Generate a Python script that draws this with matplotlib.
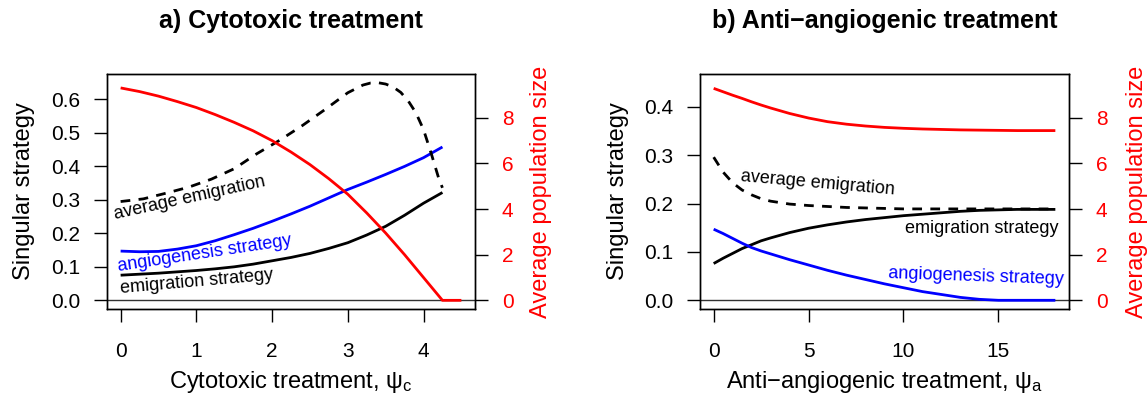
import matplotlib
matplotlib.use('Agg')
import matplotlib.pyplot as plt

plt.rcParams['font.family'] = ['Liberation Sans', 'DejaVu Sans']
plt.rcParams['mathtext.fontset'] = 'custom'
plt.rcParams['mathtext.rm'] = 'Liberation Sans'
plt.rcParams['mathtext.it'] = 'Liberation Sans'

# ---------------- data: panel a (cytotoxic) ----------------
a_x = [0, 0.25, 0.5, 0.75, 1.0, 1.25, 1.5, 1.75, 2.0, 2.25, 2.5, 2.75,
       3.0, 3.25, 3.5, 3.75, 4.0, 4.25]
a_emig = [0.075, 0.078, 0.081, 0.085, 0.089, 0.094, 0.100, 0.108, 0.118,
          0.128, 0.140, 0.155, 0.172, 0.195, 0.221, 0.254, 0.290, 0.322]
a_angio = [0.147, 0.145, 0.146, 0.153, 0.163, 0.178, 0.196, 0.215, 0.236,
           0.258, 0.281, 0.306, 0.331, 0.353, 0.376, 0.400, 0.426, 0.458]
a_avg_x = [0, 0.3, 0.6, 0.9, 1.2, 1.5, 1.8, 2.1, 2.4, 2.7, 3.0, 3.2, 3.3,
           3.4, 3.5, 3.6, 3.7, 3.8, 3.9, 4.0, 4.1, 4.2, 4.25]
a_avg = [0.295, 0.303, 0.320, 0.338, 0.362, 0.393, 0.438, 0.478, 0.522,
         0.570, 0.620, 0.643, 0.649, 0.650, 0.646, 0.637, 0.621, 0.595,
         0.560, 0.510, 0.440, 0.365, 0.336]
a_pop_x = [0, 0.25, 0.5, 0.75, 1.0, 1.25, 1.5, 1.75, 2.0, 2.25, 2.5, 2.75,
           3.0, 3.25, 3.5, 3.75, 4.0, 4.25, 4.5]
a_pop = [9.31, 9.15, 8.95, 8.71, 8.45, 8.14, 7.80, 7.43, 7.00, 6.50, 5.95,
         5.33, 4.65, 3.83, 2.95, 2.00, 1.00, 0.0, 0.0]

# ---------------- data: panel b (anti-angiogenic) ----------------
b_x = [0, 0.5, 1, 1.5, 2, 2.5, 3, 4, 5, 6, 7, 8, 9, 10, 11, 12, 13, 14,
       15, 16, 18]
b_emig = [0.076, 0.087, 0.097, 0.107, 0.115, 0.123, 0.129, 0.140, 0.149,
          0.156, 0.162, 0.167, 0.171, 0.175, 0.178, 0.181, 0.184, 0.186,
          0.187, 0.188, 0.188]
b_angio = [0.147, 0.138, 0.128, 0.118, 0.109, 0.102, 0.096, 0.084, 0.073,
           0.062, 0.052, 0.043, 0.034, 0.026, 0.018, 0.012, 0.006, 0.002,
           0.0, 0.0, 0.0]
b_avg = [0.296, 0.265, 0.243, 0.228, 0.218, 0.210, 0.205, 0.199, 0.196,
         0.194, 0.192, 0.191, 0.190, 0.189, 0.189, 0.189, 0.189, 0.189,
         0.189, 0.189, 0.189]
b_pop = [9.29, 9.14, 8.99, 8.85, 8.70, 8.56, 8.43, 8.19, 7.99, 7.83, 7.72,
         7.64, 7.58, 7.54, 7.51, 7.49, 7.47, 7.46, 7.45, 7.44, 7.44]

a_xticks = [0, 1, 2, 3, 4]
a_yticks = [0.0, 0.1, 0.2, 0.3, 0.4, 0.5, 0.6]
b_xticks = [0, 5, 10, 15]
b_yticks = [0.0, 0.1, 0.2, 0.3, 0.4]
pop_ticks = [0, 2, 4, 6, 8]

W, H = 1148, 401
fig = plt.figure(figsize=(W / 100, H / 100), dpi=100)


def px_axes(x0, x1, y0, y1):
    return [x0 / W, 1 - y1 / H, (x1 - x0) / W, (y1 - y0) / H]


TL = 9.7
LW = 2.0
DASH = (0, (3.5, 3.0))
LKW = dict(lw=LW, solid_capstyle='butt', solid_joinstyle='round')


def style(ax, twin):
    for a in (ax, twin):
        for s in a.spines.values():
            s.set_linewidth(1.0)
            s.set_color('black')
    ax.tick_params(axis='both', direction='out', length=TL, width=1.0,
                   labelsize=15, color='black')
    ax.tick_params(axis='x', pad=14)
    ax.tick_params(axis='y', pad=9.7)
    twin.tick_params(axis='y', direction='out', length=TL, width=1.0,
                     labelsize=15, color='black', labelcolor='red', pad=9.7)


# ---------------- panel a ----------------
ax1 = fig.add_axes(px_axes(107, 475, 74, 309))
ax1.set_xlim(-0.18, 4.68)
ax1.set_ylim(-0.026, 0.676)
ax1.axhline(0, color='#333333', lw=1.0, zorder=1)
ax1.plot(a_x, a_emig, color='black', **LKW)
ax1.plot(a_x, a_angio, color='blue', **LKW)
ax1.plot(a_avg_x, a_avg, color='black', lw=LW, linestyle=DASH,
         dash_joinstyle='round')
ax1.set_xticks(a_xticks)
ax1.set_yticks(a_yticks)
ax1.set_yticklabels(['%.1f' % v for v in a_yticks])
ax1.text(0.91, 0.305, 'average emigration', fontsize=13, rotation=12.4,
         ha='center', va='center', rotation_mode='anchor')
ax1.text(1.11, 0.140, 'angiogenesis strategy', fontsize=13, rotation=8.5,
         ha='center', va='center', rotation_mode='anchor', color='blue')
ax1.text(1.0, 0.0556, 'emigration strategy', fontsize=13, rotation=5,
         ha='center', va='center', rotation_mode='anchor')
ax1r = ax1.twinx()
ax1r.set_position(px_axes(107, 475, 74, 309))
ax1r.set_ylim(-0.38, 9.92)
ax1r.plot(a_pop_x, a_pop, color='red', **LKW)
ax1r.set_yticks(pop_ticks)
style(ax1, ax1r)

# ---------------- panel b ----------------
ax2 = fig.add_axes(px_axes(700, 1069, 74, 309))
ax2.set_xlim(-0.72, 18.72)
ax2.set_ylim(-0.018, 0.468)
ax2.axhline(0, color='#333333', lw=1.0, zorder=1)
ax2.plot(b_x, b_emig, color='black', **LKW)
ax2.plot(b_x, b_angio, color='blue', **LKW)
ax2.plot(b_x, b_avg, color='black', lw=LW, linestyle=DASH,
         dash_joinstyle='round')
ax2.set_xticks(b_xticks)
ax2.set_yticks(b_yticks)
ax2.set_yticklabels(['%.1f' % v for v in b_yticks])
ax2.text(5.5, 0.242, 'average emigration', fontsize=13, rotation=-5,
         ha='center', va='center', rotation_mode='anchor')
ax2.text(18.15, 0.149, 'emigration strategy', fontsize=13,
         ha='right', va='center')
ax2.text(13.8, 0.049, 'angiogenesis strategy', fontsize=13, rotation=-2,
         ha='center', va='center', rotation_mode='anchor', color='blue')
ax2r = ax2.twinx()
ax2r.set_position(px_axes(700, 1069, 74, 309))
ax2r.set_ylim(-0.38, 9.92)
ax2r.plot(b_x, b_pop, color='red', **LKW)
ax2r.set_yticks(pop_ticks)
style(ax2, ax2r)

# ---------------- titles and axis labels ----------------
def ftext(x, y, s, **kw):
    fig.text(x / W, 1 - y / H, s, **kw)


ftext(291, 28, 'a) Cytotoxic treatment', fontsize=18, weight='bold',
      ha='center', va='baseline')
ftext(884.5, 28, 'b) Anti\u2212angiogenic treatment', fontsize=18, weight='bold',
      ha='center', va='baseline')
ftext(291, 388, r'Cytotoxic treatment, ψ$_{\mathregular{c}}$', fontsize=17,
      ha='center', va='baseline')
ftext(884.5, 388, 'Anti\u2212angiogenic treatment, ψ$_{\\mathregular{a}}$', fontsize=17,
      ha='center', va='baseline')
ftext(24, 191.5, 'Singular strategy', fontsize=17, rotation=90,
      ha='center', va='center')
ftext(618, 191.5, 'Singular strategy', fontsize=17, rotation=90,
      ha='center', va='center')
ftext(541.5, 191.5, 'Average population size', fontsize=17, rotation=90,
      ha='center', va='center', color='red')
ftext(1137, 191.5, 'Average population size', fontsize=17, rotation=90,
      ha='center', va='center', color='red')

fig.savefig('out.png', dpi=100)
